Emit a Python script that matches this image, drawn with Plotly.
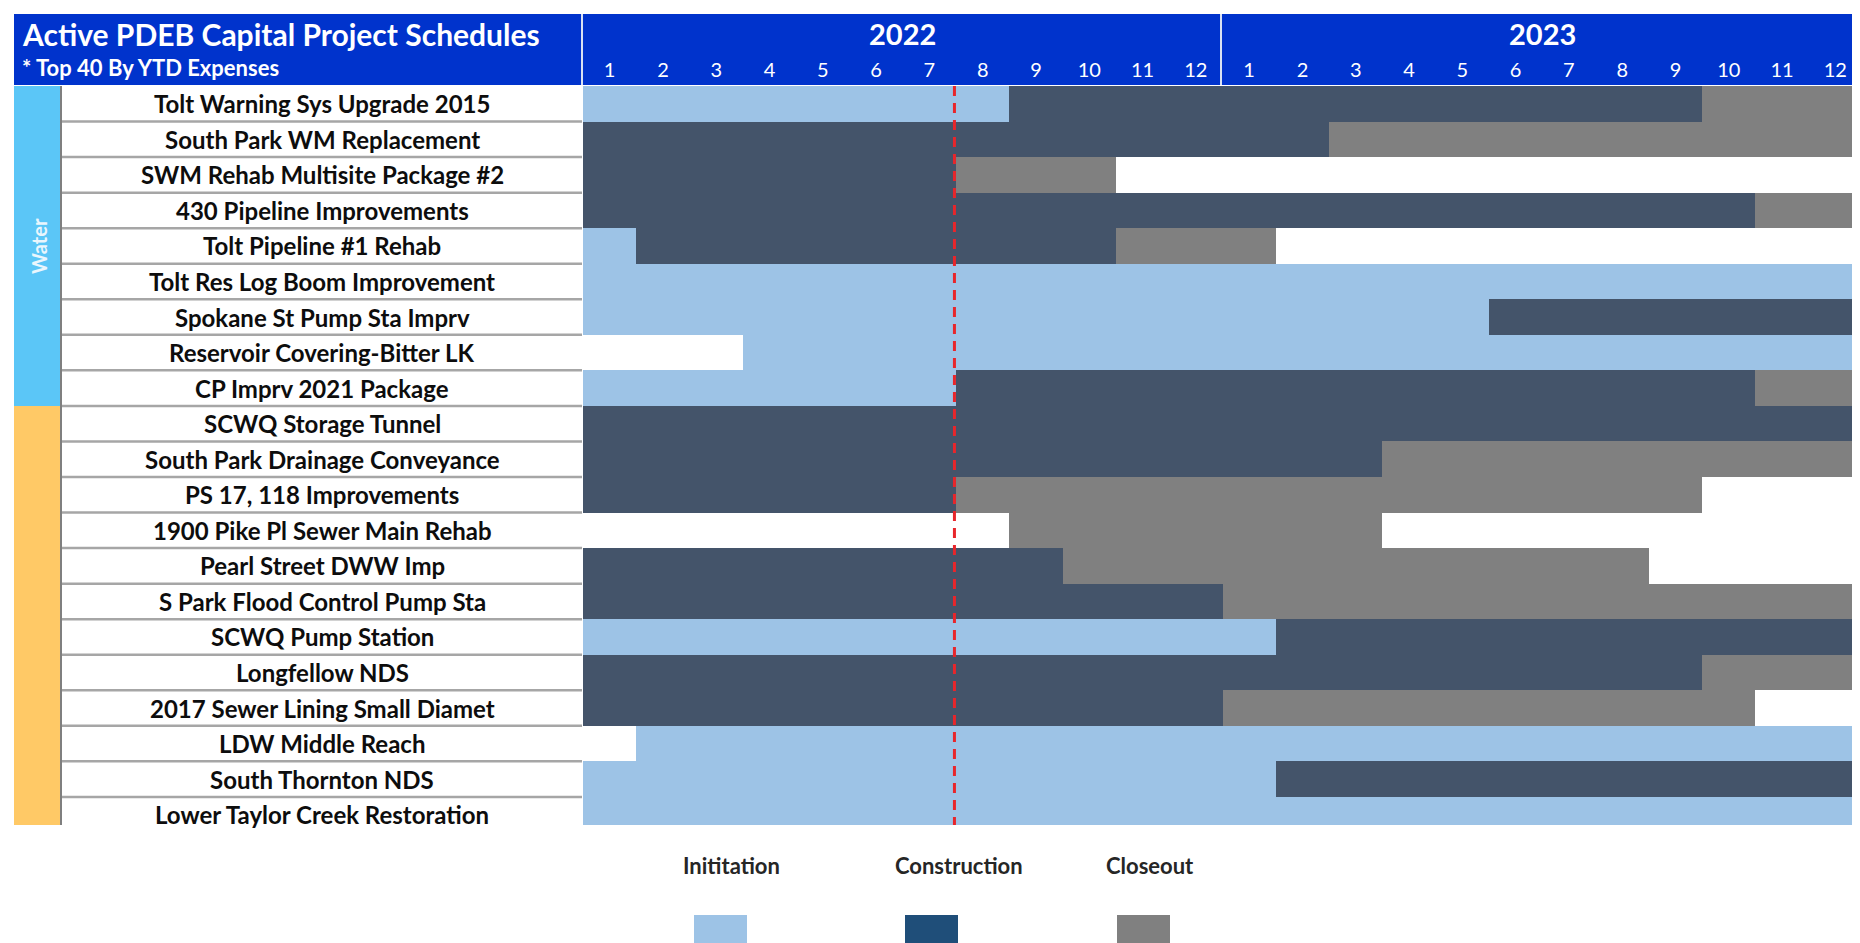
import plotly.graph_objects as go

W, H = 1860, 943

projects = [
    "Tolt Warning Sys Upgrade 2015",
    "South Park WM Replacement",
    "SWM Rehab Multisite Package #2",
    "430 Pipeline Improvements",
    "Tolt Pipeline #1 Rehab",
    "Tolt Res Log Boom Improvement",
    "Spokane St Pump Sta Imprv",
    "Reservoir Covering-Bitter LK",
    "CP Imprv 2021 Package",
    "SCWQ Storage Tunnel",
    "South Park Drainage Conveyance",
    "PS 17, 118 Improvements",
    "1900 Pike Pl Sewer Main Rehab",
    "Pearl Street DWW Imp",
    "S Park Flood Control Pump Sta",
    "SCWQ Pump Station",
    "Longfellow NDS",
    "2017 Sewer Lining Small Diamet",
    "LDW Middle Reach",
    "South Thornton NDS",
    "Lower Taylor Creek Restoration",
]
groups = ["Water"] * 9 + [""] * 12

# months since Jan 2022 (0 = start of Jan 2022, 24 = end of Dec 2023)
init_start = [0, None, None, None, 0, 0, 0, 3, 0, None, None, None, None, None, None, 0, None, None, 1, 0, 0]
init_end   = [8, None, None, None, 1, 24, 17, 24, 7, None, None, None, None, None, None, 13, None, None, 24, 13, 24]
cons_start = [8, 0, 0, 0, 1, None, 17, None, 7, 0, 0, 0, None, 0, 0, 13, 0, 0, None, 13, None]
cons_end   = [21, 14, 7, 22, 10, None, 24, None, 22, 24, 15, 7, None, 9, 12, 24, 21, 12, None, 24, None]
close_start = [21, 14, 7, 22, 10, None, None, None, 22, None, 15, 7, 8, 9, 12, None, 21, 12, None, None, None]
close_end   = [24, 24, 10, 24, 13, None, None, None, 24, None, 24, 21, 15, 20, 24, None, 24, 22, None, None, None]

years = ["2022", "2023"]
month_labels = [str(m) for m in range(1, 13)] * 2
today = 6.97

phase_names = ["Inititation", "Construction", "Closeout"]
C_INIT, C_CONS, C_CLOSE = "#9DC3E6", "#44546A", "#808080"
C_LEG_CONS = "#1F4E79"
C_HEAD = "#0033CC"
C_WATER, C_WW = "#5BC6F7", "#FFC966"
FONT = "Lato"


def px(x):
    return x / W


def py(y):
    return 1 - y / H


GX0, GX1 = 575, 1854
GY0, GY1 = 78, 817
LAST_VIS = 0.79  # fraction of the last row that is visible

fig = go.Figure()


def seg(starts, ends):
    base, dur = [], []
    for s, e in zip(starts, ends):
        if s is None:
            base.append(None)
            dur.append(None)
        else:
            base.append(s)
            dur.append(e - s)
    return base, dur


for name, st, en, col in [
    (phase_names[0], init_start, init_end, C_INIT),
    (phase_names[1], cons_start, cons_end, C_CONS),
    (phase_names[2], close_start, close_end, C_CLOSE),
]:
    b, d = seg(st, en)
    fig.add_trace(go.Bar(
        orientation="h", y=projects, x=d, base=b, width=1.0,
        marker=dict(color=col, line=dict(width=0)), name=name,
        showlegend=False, hoverinfo="skip",
    ))

n = len(projects)
y_bottom = n - 1.5 + LAST_VIS

shapes = []
annos = []

# header background
shapes.append(dict(type="rect", xref="paper", yref="paper", x0=px(6), x1=px(1854),
                   y0=py(77), y1=py(6), fillcolor=C_HEAD, line=dict(width=0), layer="below"))
for xd in (574, 1213):
    shapes.append(dict(type="line", xref="paper", yref="paper", x0=px(xd), x1=px(xd),
                       y0=py(77), y1=py(6), line=dict(color="#D9E1F2", width=2), layer="below"))

annos.append(dict(text="<b>Active PDEB Capital Project Schedules</b>", xref="paper", yref="paper",
                  x=px(12), y=py(26), xanchor="left", yanchor="middle", showarrow=False,
                  font=dict(family=FONT, size=30, color="white")))
annos.append(dict(text="<b>* Top 40 By YTD Expenses</b>", xref="paper", yref="paper",
                  x=px(12), y=py(60), xanchor="left", yanchor="middle", showarrow=False,
                  font=dict(family=FONT, size=22, color="white")))
for i, yr in enumerate(years):
    annos.append(dict(text="<b>" + yr + "</b>", xref="x", yref="paper", x=6 + 12 * i, y=py(26),
                      xanchor="center", yanchor="middle", showarrow=False,
                      font=dict(family=FONT, size=29, color="white")))

# group bands
n_water = groups.count("Water")
shapes.append(dict(type="rect", xref="paper", yref="y", x0=px(6), x1=px(53),
                   y0=-0.5, y1=n_water - 0.5, fillcolor=C_WATER, line=dict(width=0), layer="below"))
shapes.append(dict(type="rect", xref="paper", yref="y", x0=px(6), x1=px(53),
                   y0=n_water - 0.5, y1=y_bottom, fillcolor=C_WW, line=dict(width=0), layer="below"))
shapes.append(dict(type="line", xref="paper", yref="y", x0=px(53), x1=px(53),
                   y0=-0.5, y1=y_bottom, line=dict(color="#7F7F7F", width=2), layer="below"))
annos.append(dict(text="<b>Water</b>", xref="paper", yref="y", x=px(31), y=(n_water - 1) / 2,
                  xanchor="center", yanchor="middle",
                  textangle=-90, showarrow=False, font=dict(family=FONT, size=20, color="#EAF6FD")))

# label rows
for i, p in enumerate(projects):
    if i > 0:
        shapes.append(dict(type="line", xref="paper", yref="y", x0=px(54), x1=px(574),
                           y0=i - 0.5, y1=i - 0.5, line=dict(color="#A6A6A6", width=2.5), layer="below"))
    annos.append(dict(text="<b>" + p + "</b>", xref="paper", yref="y", x=px(314), y=i,
                      xanchor="center", yanchor="middle", showarrow=False,
                      font=dict(family=FONT, size=24, color="#0D0D0D")))

# today line
shapes.append(dict(type="line", xref="x", yref="y", x0=today, x1=today, y0=-0.5,
                   y1=y_bottom, line=dict(color="#E8262B", width=3, dash="10px,7px"),
                   layer="above"))

# legend
leg_cols = [C_INIT, C_LEG_CONS, C_CLOSE]
leg_text_x = [723, 951, 1142]
leg_sq_x = [686, 897, 1109]
for nm, col, tx, sx in zip(phase_names, leg_cols, leg_text_x, leg_sq_x):
    annos.append(dict(text="<b>" + nm + "</b>", xref="paper", yref="paper", x=px(tx), y=py(857),
                      xanchor="center", yanchor="middle", showarrow=False,
                      font=dict(family=FONT, size=22, color="#262626")))
    shapes.append(dict(type="rect", xref="paper", yref="paper", x0=px(sx), x1=px(sx + 53),
                       y0=py(940), y1=py(907), fillcolor=col, line=dict(width=0)))

fig.update_layout(
    width=W, height=H, margin=dict(l=0, r=0, t=0, b=0),
    paper_bgcolor="white", plot_bgcolor="white",
    barmode="overlay", bargap=0, showlegend=False,
    shapes=shapes, annotations=annos,
    xaxis=dict(domain=[px(GX0), px(GX1)], range=[0, 24], side="top",
               tickvals=[m + 0.5 for m in range(24)], ticktext=month_labels,
               tickfont=dict(family=FONT, size=20, color="white"), ticks="",
               showgrid=False, zeroline=False, showline=False, fixedrange=True,
               ticklabelstandoff=4),
    yaxis=dict(domain=[py(GY1), py(GY0)], type="category", categoryorder="array",
               categoryarray=projects, range=[y_bottom, -0.5],
               showticklabels=False, showgrid=False, zeroline=False, ticks="", fixedrange=True),
)

fig.write_html("out.html")
